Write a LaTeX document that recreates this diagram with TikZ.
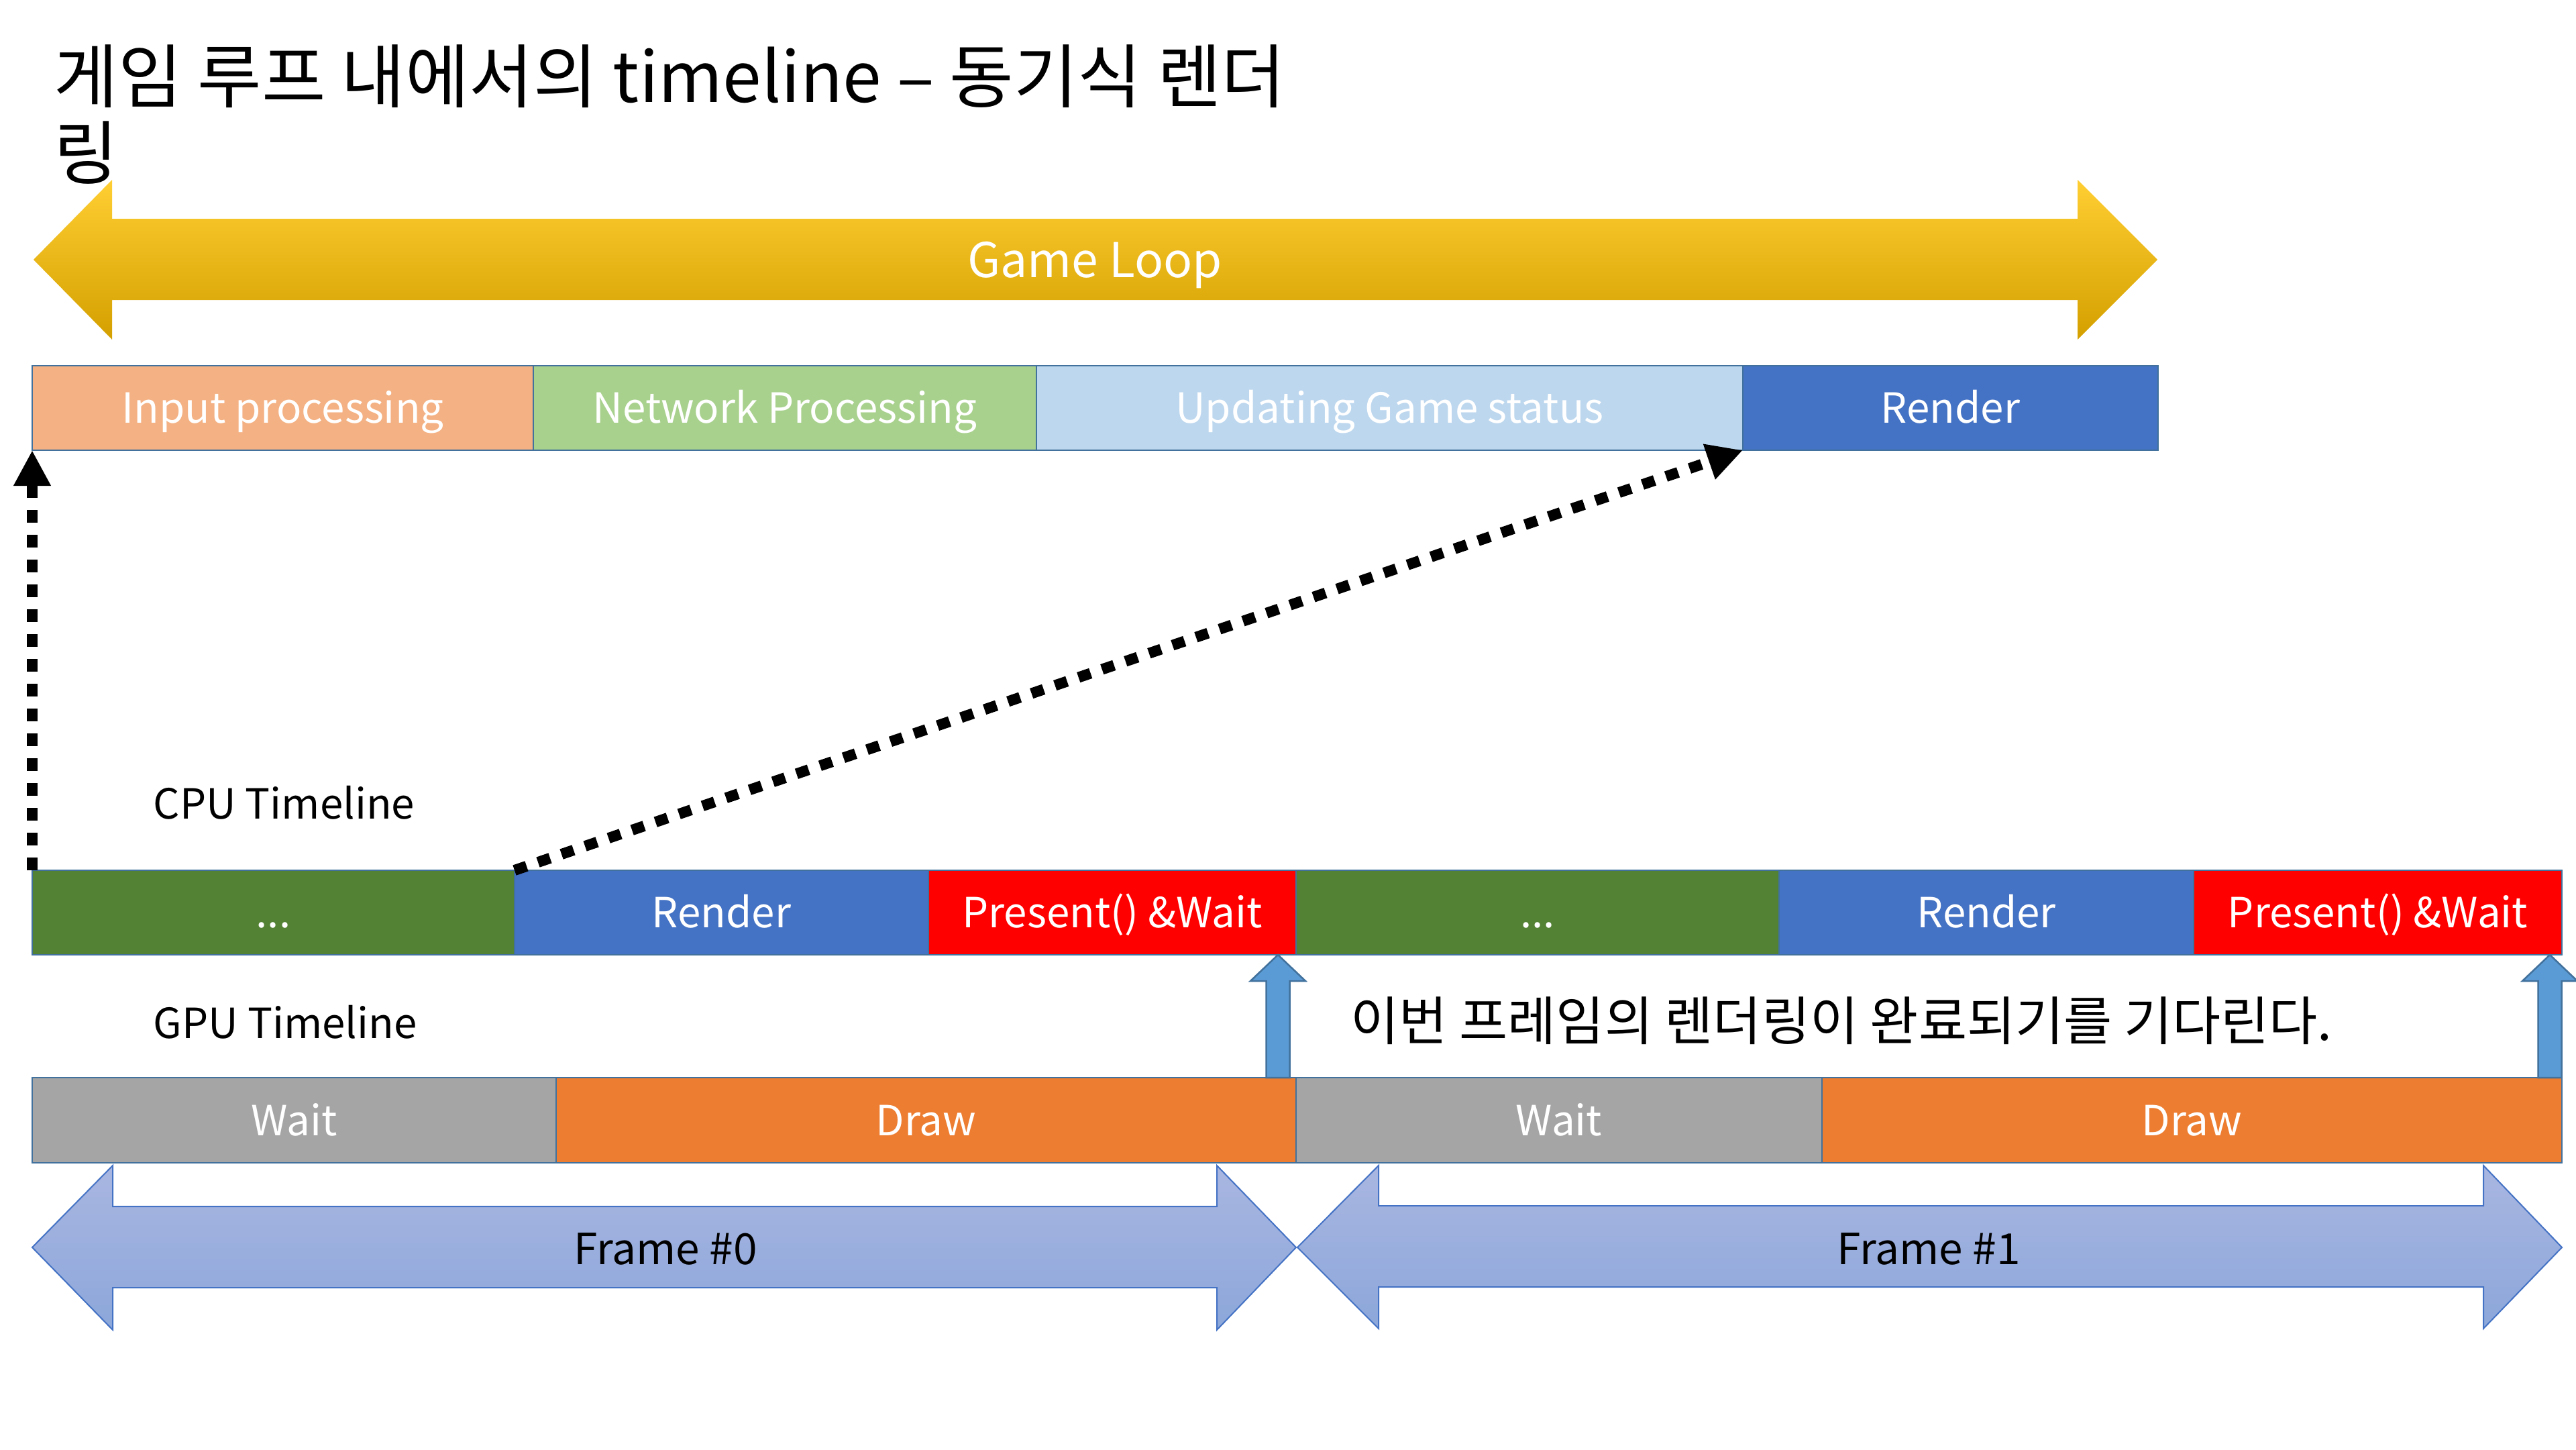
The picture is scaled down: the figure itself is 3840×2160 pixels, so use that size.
\documentclass[tikz,border=0pt]{standalone}
\usepackage{fontspec}
\setmainfont{Noto Sans CJK KR}
\usetikzlibrary{fit,arrows.meta,calc}
\definecolor{inputc}{HTML}{F4B183}
\definecolor{netc}{HTML}{A9D18E}
\definecolor{updc}{HTML}{BDD7EE}
\definecolor{renderc}{HTML}{4472C4}
\definecolor{greenc}{HTML}{548235}
\definecolor{redc}{HTML}{FF0000}
\definecolor{waitc}{HTML}{A5A5A5}
\definecolor{drawc}{HTML}{ED7D31}
\definecolor{edgec}{HTML}{41719C}
\definecolor{upblue}{HTML}{5B9BD5}
\definecolor{yelTop}{HTML}{FFCE32}
\definecolor{yelMid}{HTML}{FFC000}
\definecolor{yelBot}{HTML}{D4A000}
\definecolor{frTop}{HTML}{A9B6E1}
\definecolor{frBot}{HTML}{8CA7DA}
\newcommand\fsz[1]{\fontsize{#1}{#1}\selectfont}
\begin{document}
\begin{tikzpicture}[x=0.01cm,y=-0.01cm,
  seg/.style={inner sep=0pt, outer sep=0pt, draw=edgec, line width=0.02cm},
  barlbl/.style={inner sep=0pt, text=white, font=\fsz{17.6pt}, text height=12.9pt, text depth=0pt},
  lbl/.style={inner sep=0pt, font=\fsz{17.6pt}, text height=12.9pt, text depth=0pt},
  framelbl/.style={inner sep=0pt, font=\fsz{18.2pt}, text height=13.3pt, text depth=0pt},
  dotarrow/.style={line width=0.16cm, dash pattern=on 0.19cm off 0.18cm,
    -{Triangle[length=0.53cm,width=0.52cm]}},
  bigarrow/.style={top color=yelTop, middle color=yelMid, bottom color=yelBot},
  framearrow/.style={draw=renderc, line width=0.02cm, top color=frTop, bottom color=frBot},
  uparrow/.style={fill=upblue, draw=edgec, line width=0.025cm}
]
\useasboundingbox[fill=white] (0,0) rectangle (3840,2160);

% title
\node[anchor=base west, inner sep=0pt, font=\fsz{29.5pt}] (title1) at (80,152) {게임 루프 내에서의 timeline – 동기식 렌더};
\node[anchor=base west, inner sep=0pt, font=\fsz{29.5pt}] (title2) at (80,266) {링};

% game loop arrow
\path[bigarrow] (50,387) -- (167,268) -- (167,326) -- (3097,326) -- (3097,268) -- (3216,387)
  -- (3097,506) -- (3097,447) -- (167,447) -- (167,506) -- cycle;
\node[inner sep=0pt, text=white, font=\fsz{20.3pt}, text height=14.9pt, text depth=0pt] (gameloop) at (1632,387) {Game Loop};

% top bar
\node[seg, fill=inputc, fit={(48,545) (795,671)}] (inp) {};
\node[seg, fill=netc, fit={(795,545) (1545,671)}] (net) {};
\node[seg, fill=updc, fit={(1545,545) (2598,671)}] (upd) {};
\node[seg, fill=renderc, fit={(2598,545) (3217,671)}] (render) {};
\node[barlbl] (inpT) at (inp.center) {Input processing};
\node[barlbl] (netT) at (net.center) {Network Processing};
\node[barlbl] (updT) at (upd.center) {Updating Game status};
\node[barlbl] (renderT) at (render.center) {Render};

% labels
\node[lbl, anchor=west] (cpulbl) at (228,1198) {CPU Timeline};
\node[lbl, anchor=west] (gpulbl) at (228,1525) {GPU Timeline};

% CPU bar
\node[seg, fill=greenc, fit={(48,1297) (767,1423)}] (dots0) {};
\node[seg, fill=renderc, fit={(767,1297) (1384,1423)}] (rend0) {};
\node[seg, fill=redc, fit={(1384,1297) (1932,1423)}] (pres0) {};
\node[seg, fill=greenc, fit={(1932,1297) (2652,1423)}] (dots1) {};
\node[seg, fill=renderc, fit={(2652,1297) (3270,1423)}] (rend1) {};
\node[seg, fill=redc, fit={(3270,1297) (3819,1423)}] (pres1) {};
\node[barlbl] (dots0T) at (dots0.center) {...};
\node[barlbl] (rend0T) at (rend0.center) {Render};
\node[barlbl] (pres0T) at (pres0.center) {Present() \&Wait};
\node[barlbl] (dots1T) at (dots1.center) {...};
\node[barlbl] (rend1T) at (rend1.center) {Render};
\node[barlbl] (pres1T) at (pres1.center) {Present() \&Wait};

% GPU bar
\node[seg, fill=waitc, fit={(48,1606) (829,1733)}] (wait0) {};
\node[seg, fill=drawc, fit={(829,1606) (1932,1733)}] (draw0) {};
\node[seg, fill=waitc, fit={(1932,1606) (2716,1733)}] (wait1) {};
\node[seg, fill=drawc, fit={(2716,1606) (3819,1733)}] (draw1) {};
\node[barlbl] (wait0T) at (wait0.center) {Wait};
\node[barlbl] (draw0T) at (draw0.center) {Draw};
\node[barlbl] (wait1T) at (wait1.center) {Wait};
\node[barlbl] (draw1T) at (draw1.center) {Draw};

% caption
\node[anchor=base west, inner sep=0pt, font=\fsz{22.3pt}] (caption) at (2013,1550) {이번 프레임의 렌더링이 완료되기를 기다린다.};

% blue up arrows
\draw[uparrow] ($(draw0.north east)+(-44.5,0)$) -- ++(0,-144) -- ++(-23.5,0)
  -- ($(pres0.south east)+(-27,0)$) -- ++(41,39) -- ++(-23.5,0) -- ++(0,144) -- cycle;
\draw[uparrow] ($(draw1.north east)+(-35.5,0)$) -- ++(0,-144) -- ++(-23.5,0)
  -- ($(pres1.south east)+(-18,0)$) -- ++(41,39) -- ++(-23.5,0) -- ++(0,144) -- cycle;

% dotted arrows
\draw[dotarrow] (dots0.north west) -- (inp.south west);
\draw[dotarrow] (rend0.north west) -- (render.south west);

% frame arrows
\path[framearrow] (48,1859) -- (168,1737) -- (168,1798) -- (1814,1798) -- (1814,1737) -- (1932,1859)
  -- (1814,1982) -- (1814,1919) -- (168,1919) -- (168,1982) -- cycle;
\node[framelbl] (frame0) at (992,1861) {Frame \#0};
\path[framearrow] (1934,1859) -- (2055,1737) -- (2055,1797) -- (3702,1797) -- (3702,1737) -- (3819,1859)
  -- (3702,1980) -- (3702,1918) -- (2055,1918) -- (2055,1980) -- cycle;
\node[framelbl] (frame1) at (2875,1861) {Frame \#1};
\end{tikzpicture}
\end{document}
